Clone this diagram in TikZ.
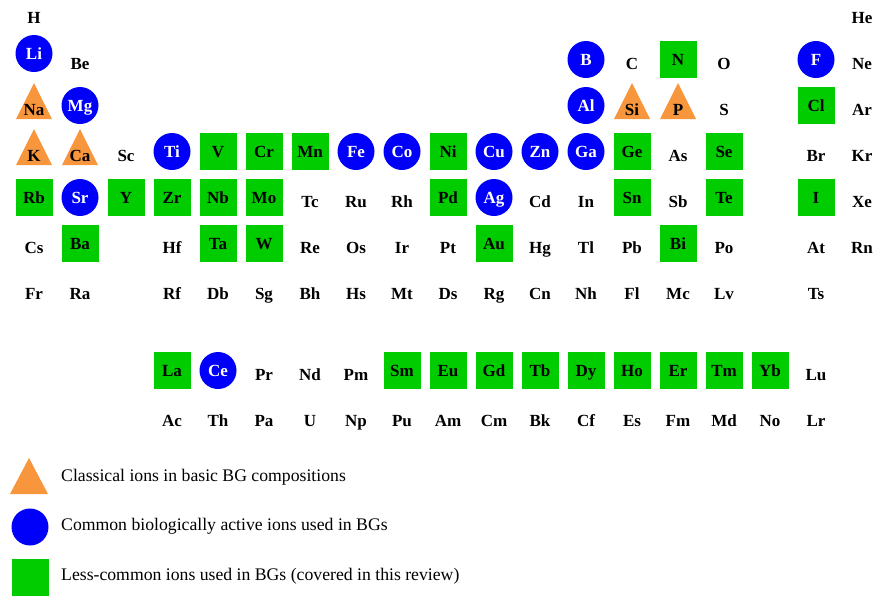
\documentclass[tikz,border=0pt]{standalone}
\usepackage{fontspec}
\setmainfont{Liberation Serif}
\usetikzlibrary{backgrounds}
\definecolor{ionorange}{RGB}{247,150,60}
\definecolor{ionblue}{RGB}{0,0,250}
\definecolor{iongreen}{RGB}{0,204,0}
\tikzset{
  el/.style={font=\fontsize{17}{17}\selectfont\bfseries,inner sep=0pt,text height=11.5pt,text depth=0pt},
  pl/.style={},
  tri/.style={},
  circ/.style={circle,fill=ionblue,text=white,minimum size=37pt,yshift=4.5pt},
  circup/.style={circ,yshift=6pt},
  sq/.style={rectangle,fill=iongreen,minimum size=37pt,yshift=4.5pt},
  trifill/.style={fill=ionorange},
  leg/.style={anchor=west,inner sep=0pt,font=\fontsize{17.7}{18}\selectfont}
}
\begin{document}
\begin{tikzpicture}[x=1pt,y=-1pt]
\useasboundingbox (0,0) rectangle (884,595);
% main table, one entry per row: text line / column/symbol/kind
\foreach \y/\row in {
  18/{0/H/pl,18/He/pl},
  64/{0/Li/circup,1/Be/pl,12/B/circ,13/C/pl,14/N/sq,15/O/pl,17/F/circ,18/Ne/pl},
  110/{0/Na/tri,1/Mg/circ,12/Al/circ,13/Si/tri,14/P/tri,15/S/pl,17/Cl/sq,18/Ar/pl},
  156/{0/K/tri,1/Ca/tri,2/Sc/pl,3/Ti/circ,4/V/sq,5/Cr/sq,6/Mn/sq,7/Fe/circ,8/Co/circ,9/Ni/sq,10/Cu/circ,11/Zn/circ,12/Ga/circ,13/Ge/sq,14/As/pl,15/Se/sq,17/Br/pl,18/Kr/pl},
  202/{0/Rb/sq,1/Sr/circ,2/Y/sq,3/Zr/sq,4/Nb/sq,5/Mo/sq,6/Tc/pl,7/Ru/pl,8/Rh/pl,9/Pd/sq,10/Ag/circ,11/Cd/pl,12/In/pl,13/Sn/sq,14/Sb/pl,15/Te/sq,17/I/sq,18/Xe/pl},
  248/{0/Cs/pl,1/Ba/sq,3/Hf/pl,4/Ta/sq,5/W/sq,6/Re/pl,7/Os/pl,8/Ir/pl,9/Pt/pl,10/Au/sq,11/Hg/pl,12/Tl/pl,13/Pb/pl,14/Bi/sq,15/Po/pl,17/At/pl,18/Rn/pl},
  294/{0/Fr/pl,1/Ra/pl,3/Rf/pl,4/Db/pl,5/Sg/pl,6/Bh/pl,7/Hs/pl,8/Mt/pl,9/Ds/pl,10/Rg/pl,11/Cn/pl,12/Nh/pl,13/Fl/pl,14/Mc/pl,15/Lv/pl,17/Ts/pl},
  375/{3/La/sq,4/Ce/circ,5/Pr/pl,6/Nd/pl,7/Pm/pl,8/Sm/sq,9/Eu/sq,10/Gd/sq,11/Tb/sq,12/Dy/sq,13/Ho/sq,14/Er/sq,15/Tm/sq,16/Yb/sq,17/Lu/pl},
  421/{3/Ac/pl,4/Th/pl,5/Pa/pl,6/U/pl,7/Np/pl,8/Pu/pl,9/Am/pl,10/Cm/pl,11/Bk/pl,12/Cf/pl,13/Es/pl,14/Fm/pl,15/Md/pl,16/No/pl,17/Lr/pl}}
  \foreach \c/\e/\k in \row \node[el,\k] (\e) at (34+46*\c,\y) {\e};
% triangles behind the classical ions
\begin{scope}[on background layer]
\foreach \e in {Na,K,Ca,Si,P} \fill[trifill] ([shift={(-18pt,-9pt)}]\e.center) -- ++(36pt,0pt) -- ++(-18pt,36pt) -- cycle;
\end{scope}
% legend
\coordinate (legTri) at (29,494);
\fill[trifill] (legTri) ++(-19pt,0pt) -- ++(38pt,0pt) -- ++(-19pt,36pt) -- cycle;
\node[circle,fill=ionblue,minimum size=37pt,inner sep=0pt] (legCirc) at (30,527) {};
\node[rectangle,fill=iongreen,minimum size=37pt,inner sep=0pt] (legSq) at (30,577) {};
\node[leg] (legA) at (61,477) {Classical ions in basic BG compositions};
\node[leg] (legB) at (61,526) {Common biologically active ions used in BGs};
\node[leg] (legC) at (61,576) {Less-common ions used in BGs (covered in this review)};
\end{tikzpicture}
\end{document}
